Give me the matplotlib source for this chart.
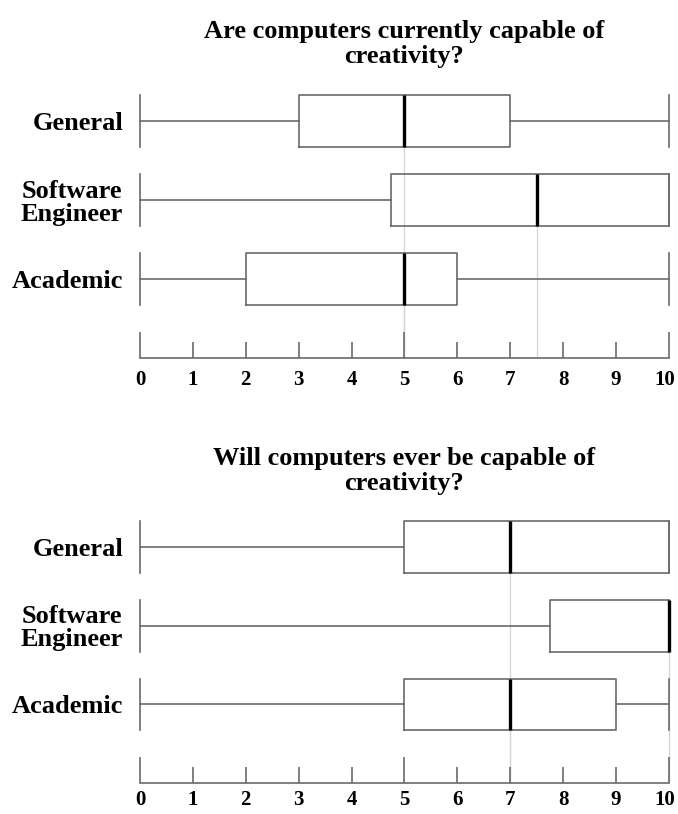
import matplotlib
matplotlib.use("Agg")
from matplotlib import pyplot as plt
from matplotlib.transforms import ScaledTranslation

plt.rcParams['font.family'] = ['Liberation Serif', 'DejaVu Serif']
plt.rcParams['font.weight'] = 'bold'

# Datos
grupos = ["General", "Software\nEngineer", "Academic"]
ticks = [0, 1, 2, 3, 4, 5, 6, 7, 8, 9, 10]

titulo_1 = "Are computers currently capable of\ncreativity?"
min_1 = [0, 0, 0]
q1_1 = [3, 4.75, 2]
med_1 = [5, 7.5, 5]
q3_1 = [7, 10, 6]
max_1 = [10, 10, 10]

titulo_2 = "Will computers ever be capable of\ncreativity?"
min_2 = [0, 0, 0]
q1_2 = [5, 7.75, 5]
med_2 = [7, 10, 7]
q3_2 = [10, 10, 9]
max_2 = [10, 10, 10]

gris = '#6a6a6a'
ancho = 0.66


def panel(fig, ax, titulo, lo, q1, med, q3, hi, pad_x=8.5):
    pos = [3, 2, 1]
    stats = []
    for g, a, b, c, d, e in zip(grupos, lo, q1, med, q3, hi):
        stats.append(dict(label=g, whislo=a, q1=b, med=c, q3=d, whishi=e, fliers=[]))
    arts = ax.bxp(stats, positions=pos, widths=ancho, capwidths=ancho,
                  orientation='horizontal', showfliers=False,
                  boxprops=dict(color=gris, lw=1.2),
                  whiskerprops=dict(color=gris, lw=1.2),
                  capprops=dict(color=gris, lw=1.2),
                  medianprops=dict(color='black', lw=2.4))
    for k in arts:
        for a in arts[k]:
            a.set_clip_on(False)
    # lineas guia de la mediana
    for p, m in zip(pos, med):
        ax.vlines(m, 0, p - ancho / 2, color='#d4d4d4', lw=0.9, zorder=0, clip_on=False)

    ax.set_xlim(0, 10)
    ax.set_ylim(0, 3.45)
    for s in ['top', 'right', 'left']:
        ax.spines[s].set_visible(False)
    ax.spines['bottom'].set_color(gris)
    ax.spines['bottom'].set_linewidth(1.2)

    mayores = [t for t in ticks if t % 5 == 0]
    menores = [t for t in ticks if t % 5 != 0]
    ax.set_xticks(mayores, labels=[str(t) for t in mayores])
    ax.set_xticks(menores, labels=[str(t) for t in menores], minor=True)
    ax.tick_params(axis='x', which='major', direction='in', length=18.5, width=1.2,
                   color=gris, pad=pad_x, labelsize=15)
    ax.tick_params(axis='x', which='minor', direction='in', length=11.5, width=1.2,
                   color=gris, pad=pad_x, labelsize=15)
    # el "10" se corre un poco a la izquierda para que quepa
    ultimo = ax.xaxis.get_major_ticks()[-1].label1
    ultimo.set_transform(ultimo.get_transform() + ScaledTranslation(-3 / 72, 0, fig.dpi_scale_trans))

    ax.tick_params(axis='y', length=0, pad=12, labelsize=19)
    for t in ax.get_yticklabels():
        t.set_fontweight('bold')
        t.set_multialignment('center')
        t.set_linespacing(1.0)
    ax.set_title(titulo, fontsize=19, fontweight='bold', pad=16, linespacing=1.1)


fig = plt.figure(figsize=(6.78, 8.14), dpi=100)
ax1 = fig.add_axes([0.2065, 0.5602, 0.7802, 0.3348])
ax2 = fig.add_axes([0.2065, 0.0380, 0.7802, 0.3330])
panel(fig, ax1, titulo_1, min_1, q1_1, med_1, q3_1, max_1)
panel(fig, ax2, titulo_2, min_2, q1_2, med_2, q3_2, max_2, pad_x=5)

fig.savefig("out.png", dpi=100)
